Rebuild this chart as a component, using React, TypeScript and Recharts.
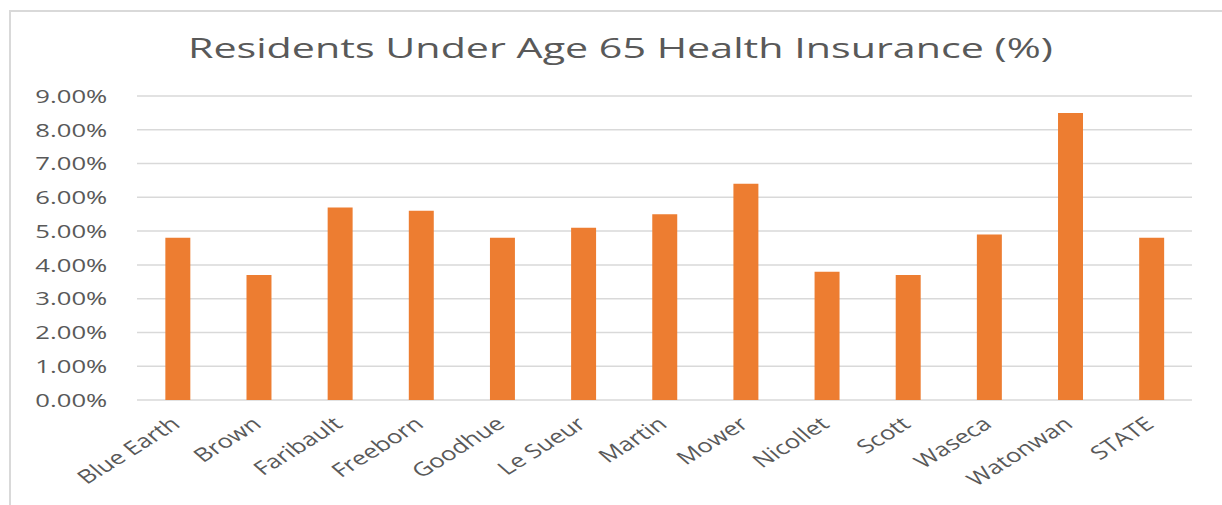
import React from "react";
import { BarChart, Bar, XAxis, YAxis, CartesianGrid } from "recharts";

const counties = [
  "Blue Earth",
  "Brown",
  "Faribault",
  "Freeborn",
  "Goodhue",
  "Le Sueur",
  "Martin",
  "Mower",
  "Nicollet",
  "Scott",
  "Waseca",
  "Watonwan",
  "STATE",
];
const uninsured = [4.8, 3.7, 5.7, 5.6, 4.8, 5.1, 5.5, 6.4, 3.8, 3.7, 4.9, 8.5, 4.8];
const yTicks = [0, 1, 2, 3, 4, 5, 6, 7, 8, 9];

const data = counties.map((name, i) => ({ name, value: uninsured[i] }));

// the reference looks horizontally stretched, so draw narrow and scale on x
const S = 1.35;
const W = 1222 / S;
const FONT = "'Open Sans', sans-serif";
const TEXT = "#595959";

const CountyTick = (props: any) => {
  const { x, y, payload } = props;
  const tx = x + 3;
  const ty = y + 26;
  return (
    <text
      x={tx}
      y={ty}
      transform={`rotate(-40, ${tx}, ${ty})`}
      textAnchor="end"
      fill={TEXT}
      fontSize={19}
      fontFamily={FONT}
    >
      {payload.value}
    </text>
  );
};

export default function App() {
  return (
    <div
      style={{
        position: "absolute",
        left: 0,
        top: 0,
        width: 1222,
        height: 505,
        background: "#fff",
        overflow: "hidden",
      }}
    >
      <div
        style={{
          position: "absolute",
          left: 9,
          top: 10,
          width: 1400,
          height: 700,
          border: "2.5px solid #d9d9d9",
        }}
      />
      <div
        style={{
          position: "absolute",
          left: 0,
          top: 0,
          width: W,
          height: 505,
          transform: `scaleX(${S})`,
          transformOrigin: "0 0",
        }}
      >
        <svg width={W} height={80} style={{ position: "absolute", left: 0, top: 0 }}>
          <text
            x={620.5 / S}
            y={58}
            textAnchor="middle"
            fill={TEXT}
            fontSize={28}
            fontFamily={FONT}
            textLength={865 / S}
            lengthAdjust="spacingAndGlyphs"
          >
            Residents Under Age 65 Health Insurance (%)
          </text>
        </svg>
        <BarChart
          width={W}
          height={505}
          data={data}
          margin={{ top: 96, right: W - 1192 / S, bottom: 0, left: 0 }}
        >
          <CartesianGrid vertical={false} stroke="#d9d9d9" strokeWidth={1.5} />
          <XAxis
            dataKey="name"
            interval={0}
            axisLine={false}
            tickLine={false}
            tickSize={0}
            tickMargin={0}
            height={105}
            tick={<CountyTick />}
          />
          <YAxis
            width={137 / S}
            domain={[0, 9]}
            ticks={yTicks}
            tickFormatter={(v: number) => `${v.toFixed(2)}%`}
            axisLine={false}
            tickLine={false}
            tickSize={0}
            tickMargin={22}
            tick={{ fill: TEXT, fontSize: 19, fontFamily: FONT }}
          />
          <Bar dataKey="value" fill="#ED7D31" barSize={18.5} isAnimationActive={false} />
        </BarChart>
      </div>
    </div>
  );
}
